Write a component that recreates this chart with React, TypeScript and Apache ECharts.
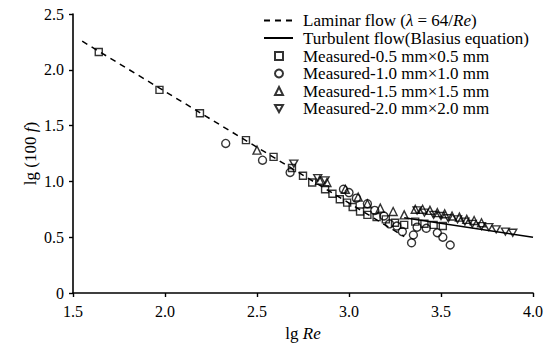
import React, { useEffect, useRef } from "react";
import * as echarts from "echarts";

const xTicks = [1.5, 2.0, 2.5, 3.0, 3.5, 4.0];
const yTicks = [0, 0.5, 1.0, 1.5, 2.0, 2.5];

const laminarX = [1.55, 3.3];
const laminarY = [2.256, 0.506];

const turbulentX = [3.3, 4.0];
const turbulentY = [0.675, 0.5];

const sq05X = [1.64, 1.97, 2.19, 2.44, 2.59, 2.69, 2.75, 2.80, 2.87, 2.91, 2.95, 2.99, 3.02, 3.06, 3.10, 3.15, 3.20, 3.25, 3.30, 3.36, 3.41, 3.46, 3.51];
const sq05Y = [2.16, 1.82, 1.61, 1.37, 1.22, 1.12, 1.05, 0.99, 0.93, 0.89, 0.84, 0.81, 0.77, 0.73, 0.70, 0.68, 0.66, 0.63, 0.61, 0.64, 0.62, 0.61, 0.60];

const c10X = [2.33, 2.53, 2.68, 2.97, 3.00, 3.04, 3.10, 3.14, 3.19, 3.22, 3.26, 3.29, 3.34, 3.35, 3.37, 3.42, 3.48, 3.51, 3.55];
const c10Y = [1.34, 1.19, 1.08, 0.93, 0.90, 0.85, 0.80, 0.74, 0.69, 0.62, 0.60, 0.55, 0.45, 0.52, 0.59, 0.58, 0.54, 0.50, 0.43];

const t15X = [2.50, 2.84, 2.88, 2.98, 3.05, 3.10, 3.17, 3.24, 3.30, 3.36, 3.40, 3.44, 3.48, 3.52, 3.56, 3.60, 3.64, 3.68, 3.72];
const t15Y = [1.28, 1.01, 0.99, 0.93, 0.86, 0.80, 0.76, 0.73, 0.70, 0.75, 0.75, 0.74, 0.72, 0.71, 0.69, 0.68, 0.66, 0.65, 0.63];

const t20X = [2.70, 2.83, 2.87, 3.37, 3.41, 3.46, 3.50, 3.54, 3.59, 3.63, 3.67, 3.72, 3.76, 3.80, 3.85, 3.89];
const t20Y = [1.16, 1.03, 1.01, 0.74, 0.72, 0.70, 0.69, 0.67, 0.66, 0.64, 0.62, 0.60, 0.59, 0.57, 0.55, 0.54];

const names = [
  "Laminar flow (λ = 64/Re)",
  "Turbulent flow(Blasius equation)",
  "Measured-0.5 mm×0.5 mm",
  "Measured-1.0 mm×1.0 mm",
  "Measured-1.5 mm×1.5 mm",
  "Measured-2.0 mm×2.0 mm",
];

const zip = (xs: number[], ys: number[]) => xs.map((x, i) => [x, ys[i]]);

const FONT = "Liberation Serif";
const DOWN_TRI = "path://M0,0 L10,0 L5,9 Z";

export default function App() {
  const ref = useRef<HTMLDivElement>(null);
  useEffect(() => {
    if (!ref.current) return;
    const chart = echarts.init(ref.current, undefined, { renderer: "svg" });
    const hollow = { color: "rgba(0,0,0,0)", borderColor: "#000", borderWidth: 1.4 };
    const invisible = { color: "rgba(0,0,0,0)", borderColor: "rgba(0,0,0,0)", borderWidth: 0 };
    chart.setOption({
      animation: false,
      backgroundColor: "#fff",
      textStyle: { fontFamily: FONT, color: "#000" },
      grid: { left: 73, right: 21, top: 14, bottom: 48 },
      legend: [
        {
          orient: "vertical",
          left: 263,
          top: 12,
          padding: 0,
          itemWidth: 29,
          itemHeight: 10,
          itemGap: 0.5,
          data: [
            { name: names[0], itemStyle: invisible },
            { name: names[1], itemStyle: invisible },
          ],
          formatter: (n: string) => (n === names[0] ? "Laminar flow ({i|λ} = 64/{i|Re})" : n),
          textStyle: {
            fontFamily: FONT,
            fontSize: 17,
            lineHeight: 17,
            color: "#000",
            padding: [0, 0, 0, 5],
            rich: { i: { fontFamily: FONT, fontSize: 17, lineHeight: 17, fontStyle: "italic", color: "#000" } },
          },
        },
        {
          orient: "vertical",
          left: 274,
          top: 47.5,
          padding: 0,
          itemWidth: 8,
          itemHeight: 8,
          itemGap: 0.5,
          data: [
            { name: names[2], icon: "rect" },
            { name: names[3], icon: "circle" },
            { name: names[4], icon: "triangle" },
            { name: names[5], icon: DOWN_TRI },
          ],
          textStyle: { fontFamily: FONT, fontSize: 17, lineHeight: 17, color: "#000", padding: [0, 0, 0, 15] },
        },
      ],
      xAxis: {
        type: "value",
        min: 1.5,
        max: 4.0,
        interval: 0.5,
        name: "lg {i|Re}",
        nameLocation: "middle",
        nameGap: 32,
        nameMoveOverlap: false,
        nameTextStyle: {
          fontFamily: FONT,
          fontSize: 17,
          color: "#000",
          rich: { i: { fontFamily: FONT, fontSize: 17, fontStyle: "italic", color: "#000" } },
        },
        splitLine: { show: false },
        axisLine: { lineStyle: { color: "#000", width: 1.6 } },
        axisTick: { length: 4, lineStyle: { color: "#000", width: 1.4 } },
        axisLabel: {
          margin: 10,
          fontFamily: FONT,
          fontSize: 16,
          color: "#000",
          formatter: (v: number) => (xTicks.includes(v) ? v.toFixed(1) : ""),
        },
      },
      yAxis: {
        type: "value",
        min: 0,
        max: 2.5,
        interval: 0.5,
        name: "lg (100 {i|f})",
        nameLocation: "middle",
        nameGap: 34,
        nameMoveOverlap: false,
        nameTextStyle: {
          fontFamily: FONT,
          fontSize: 17,
          color: "#000",
          rich: { i: { fontFamily: FONT, fontSize: 17, fontStyle: "italic", color: "#000" } },
        },
        splitLine: { show: false },
        axisLine: { show: true, lineStyle: { color: "#000", width: 1.6 } },
        axisTick: { show: true, length: 4, lineStyle: { color: "#000", width: 1.4 } },
        axisLabel: {
          margin: 9,
          fontFamily: FONT,
          fontSize: 16,
          color: "#000",
          formatter: (v: number) => (yTicks.includes(v) ? (v === 0 ? "0" : v.toFixed(1)) : ""),
        },
      },
      series: [
        {
          name: names[0],
          type: "line",
          data: zip(laminarX, laminarY),
          symbol: "none",
          showSymbol: false,
          lineStyle: { color: "#000", width: 1.5, type: [6, 5] },
          itemStyle: { color: "#000" },
          z: 1,
        },
        {
          name: names[1],
          type: "line",
          data: zip(turbulentX, turbulentY),
          symbol: "none",
          showSymbol: false,
          lineStyle: { color: "#000", width: 1.5 },
          itemStyle: { color: "#000" },
          z: 1,
        },
        {
          name: names[2],
          type: "scatter",
          symbol: "rect",
          symbolSize: 7,
          data: zip(sq05X, sq05Y),
          itemStyle: hollow,
        },
        {
          name: names[3],
          type: "scatter",
          symbol: "circle",
          symbolSize: 8,
          data: zip(c10X, c10Y),
          itemStyle: hollow,
        },
        {
          name: names[4],
          type: "scatter",
          symbol: "triangle",
          symbolSize: 8,
          data: zip(t15X, t15Y),
          itemStyle: hollow,
        },
        {
          name: names[5],
          type: "scatter",
          symbol: DOWN_TRI,
          symbolSize: [8, 7],
          data: zip(t20X, t20Y),
          itemStyle: hollow,
        },
      ],
    });
    return () => chart.dispose();
  }, []);
  return (
    <div
      ref={ref}
      style={{ position: "absolute", left: 0, top: 0, width: 554, height: 347, background: "#fff" }}
    />
  );
}
